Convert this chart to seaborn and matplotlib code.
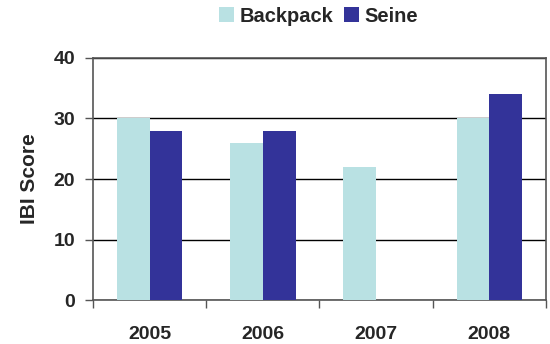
import numpy as np
import pandas as pd
import matplotlib
matplotlib.use("Agg")
import matplotlib.pyplot as plt
from matplotlib.patches import Patch
from matplotlib.ticker import FixedLocator
import seaborn as sns

years = ["2005", "2006", "2007", "2008"]
backpack = [30, 26, 22, 30]
seine = [28, 28, np.nan, 34]
series = ["Backpack", "Seine"]
colors = ["#B9E1E3", "#333399"]

df = pd.DataFrame({
    "Year": years * 2,
    "Method": ["Backpack"] * len(years) + ["Seine"] * len(years),
    "IBI": backpack + seine,
})

sns.set_style("white")
plt.rcParams["font.family"] = ["Liberation Sans", "DejaVu Sans"]
plt.rcParams["font.weight"] = "bold"
plt.rcParams["axes.labelweight"] = "bold"

fig = plt.figure(figsize=(5.5, 3.44), dpi=100)
ax = fig.add_axes([0.1691, 0.1279, 0.8236, 0.7035])

sns.barplot(data=df, x="Year", y="IBI", hue="Method", hue_order=series,
            palette=colors, width=0.58, saturation=1, ax=ax, legend=False,
            linewidth=0, zorder=3)

ax.set_ylim(0, 40)
ax.set_xlim(-0.5, len(years) - 0.5)
ax.set_yticks([0, 10, 20, 30, 40])
ax.yaxis.grid(True, color="black", linewidth=1, zorder=0)
ax.set_axisbelow(True)

for s in ax.spines.values():
    s.set_color("#555555")
    s.set_linewidth(1.2)
    s.set_visible(True)

ax.tick_params(axis="y", direction="out", length=6, width=1, color="#555555",
               labelsize=14, pad=7, left=True)
ax.tick_params(axis="x", which="major", length=0, labelsize=14, pad=19)
ax.xaxis.set_minor_locator(FixedLocator(np.arange(-0.5, len(years), 1.0)))
ax.tick_params(axis="x", which="minor", direction="out", length=6, width=1,
               color="#555555", bottom=True)
for lbl in ax.get_xticklabels() + ax.get_yticklabels():
    lbl.set_fontweight("bold")

ax.set_xlabel("")
ax.set_ylabel("IBI Score", fontsize=15, fontweight="bold", labelpad=10)

handles = [Patch(facecolor=c, edgecolor="none") for c in colors]
leg = fig.legend(handles, series, loc="center", bbox_to_anchor=(0.579, 0.953),
                 ncol=2, frameon=False,
                 prop={"family": ["Liberation Sans"], "weight": "bold", "size": 14.5},
                 handlelength=0.75, handleheight=0.75, handletextpad=0.3,
                 columnspacing=0.5, borderpad=0, borderaxespad=0)
for t in leg.get_texts():
    t.set_fontweight("bold")

fig.savefig("out.png", dpi=100)
